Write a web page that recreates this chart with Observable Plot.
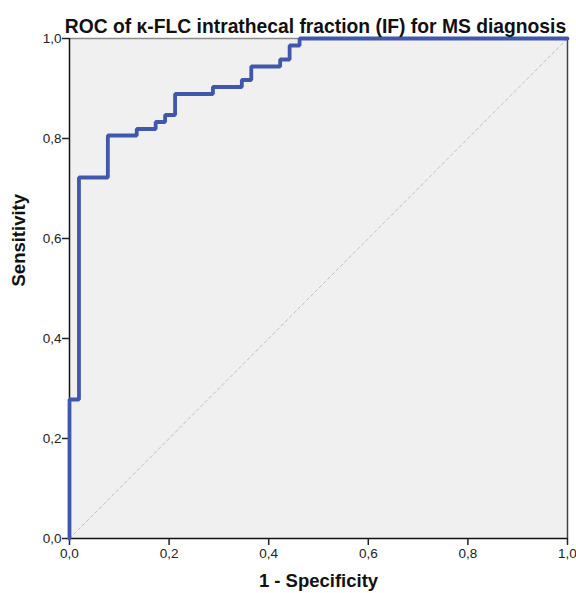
<!DOCTYPE html>
<html>
<head>
<meta charset="utf-8">
<script src="https://cdn.jsdelivr.net/npm/d3@7"></script>
<script src="https://cdn.jsdelivr.net/npm/@observablehq/plot@0.6"></script>
<style>
  body { margin: 0; background: #fff; }
  #chart svg { display: block; }
</style>
</head>
<body>
<div id="chart"></div>
<script>
// ROC curve corner points (1 - specificity, sensitivity), step-after
const fpr = [0, 0, 0.019, 0.077, 0.135, 0.173, 0.192, 0.212, 0.288, 0.346, 0.365, 0.423, 0.442, 0.462, 1.0];
const tpr = [0, 0.278, 0.722, 0.806, 0.819, 0.833, 0.847, 0.889, 0.903, 0.917, 0.944, 0.958, 0.986, 1.0, 1.0];
const ticks = [0, 0.2, 0.4, 0.6, 0.8, 1.0];
const title = "ROC of κ-FLC intrathecal fraction (IF) for MS diagnosis";
const xLabel = "1 - Specificity";
const yLabel = "Sensitivity";

const roc = fpr.map((x, i) => ({x, y: tpr[i]}));
const diag = [{x: 0, y: 0}, {x: 1, y: 1}];
const fmt = d => d.toFixed(1).replace(".", ",");
const font = "'Liberation Sans', Arial, sans-serif";

const chart = Plot.plot({
  width: 576,
  height: 593,
  marginLeft: 69,
  marginRight: 9,
  marginTop: 38,
  marginBottom: 55,
  style: {fontFamily: font, fontSize: "13.5px", color: "#222", background: "#fff"},
  x: {domain: [0, 1]},
  y: {domain: [0, 1]},
  marks: [
    Plot.frame({fill: "#f0f0f0", stroke: null}),
    Plot.line(diag, {x: "x", y: "y", stroke: "#bcbfcc", strokeWidth: 1, strokeDasharray: "3,3"}),
    Plot.ruleY([1], {stroke: "#8a8a8a", strokeWidth: 1.5}),
    Plot.ruleX([1], {stroke: "#444", strokeWidth: 1.5}),
    Plot.ruleX([0], {stroke: "#111", strokeWidth: 1.5}),
    Plot.ruleY([0], {stroke: "#111", strokeWidth: 1.5}),
    Plot.axisX(ticks, {tickFormat: fmt, tickSize: 7, tickPadding: 3, label: null, fontSize: 13.5, fill: "#222", stroke: "#222", strokeWidth: 1.5}),
    Plot.axisY(ticks, {tickFormat: fmt, tickSize: 7, tickPadding: 1, label: null, fontSize: 13.5, fill: "#222", stroke: "#222", strokeWidth: 1.5}),
    Plot.line(roc, {x: "x", y: "y", curve: "step-after", stroke: "#3f58ab", strokeWidth: 3.8, strokeLinejoin: "miter"}),
    Plot.text([title], {frameAnchor: "top", dy: -19, dx: -3, fontSize: 19.3, fontWeight: "bold", fill: "#111"}),
    Plot.text([xLabel], {frameAnchor: "bottom", dy: 48, fontSize: 18.5, fontWeight: "bold", fill: "#111"}),
    Plot.text([yLabel], {frameAnchor: "left", dx: -50, dy: -2, rotate: -90, fontSize: 18.5, fontWeight: "bold", fill: "#111"})
  ]
});
document.getElementById("chart").appendChild(chart);
</script>
</body>
</html>
